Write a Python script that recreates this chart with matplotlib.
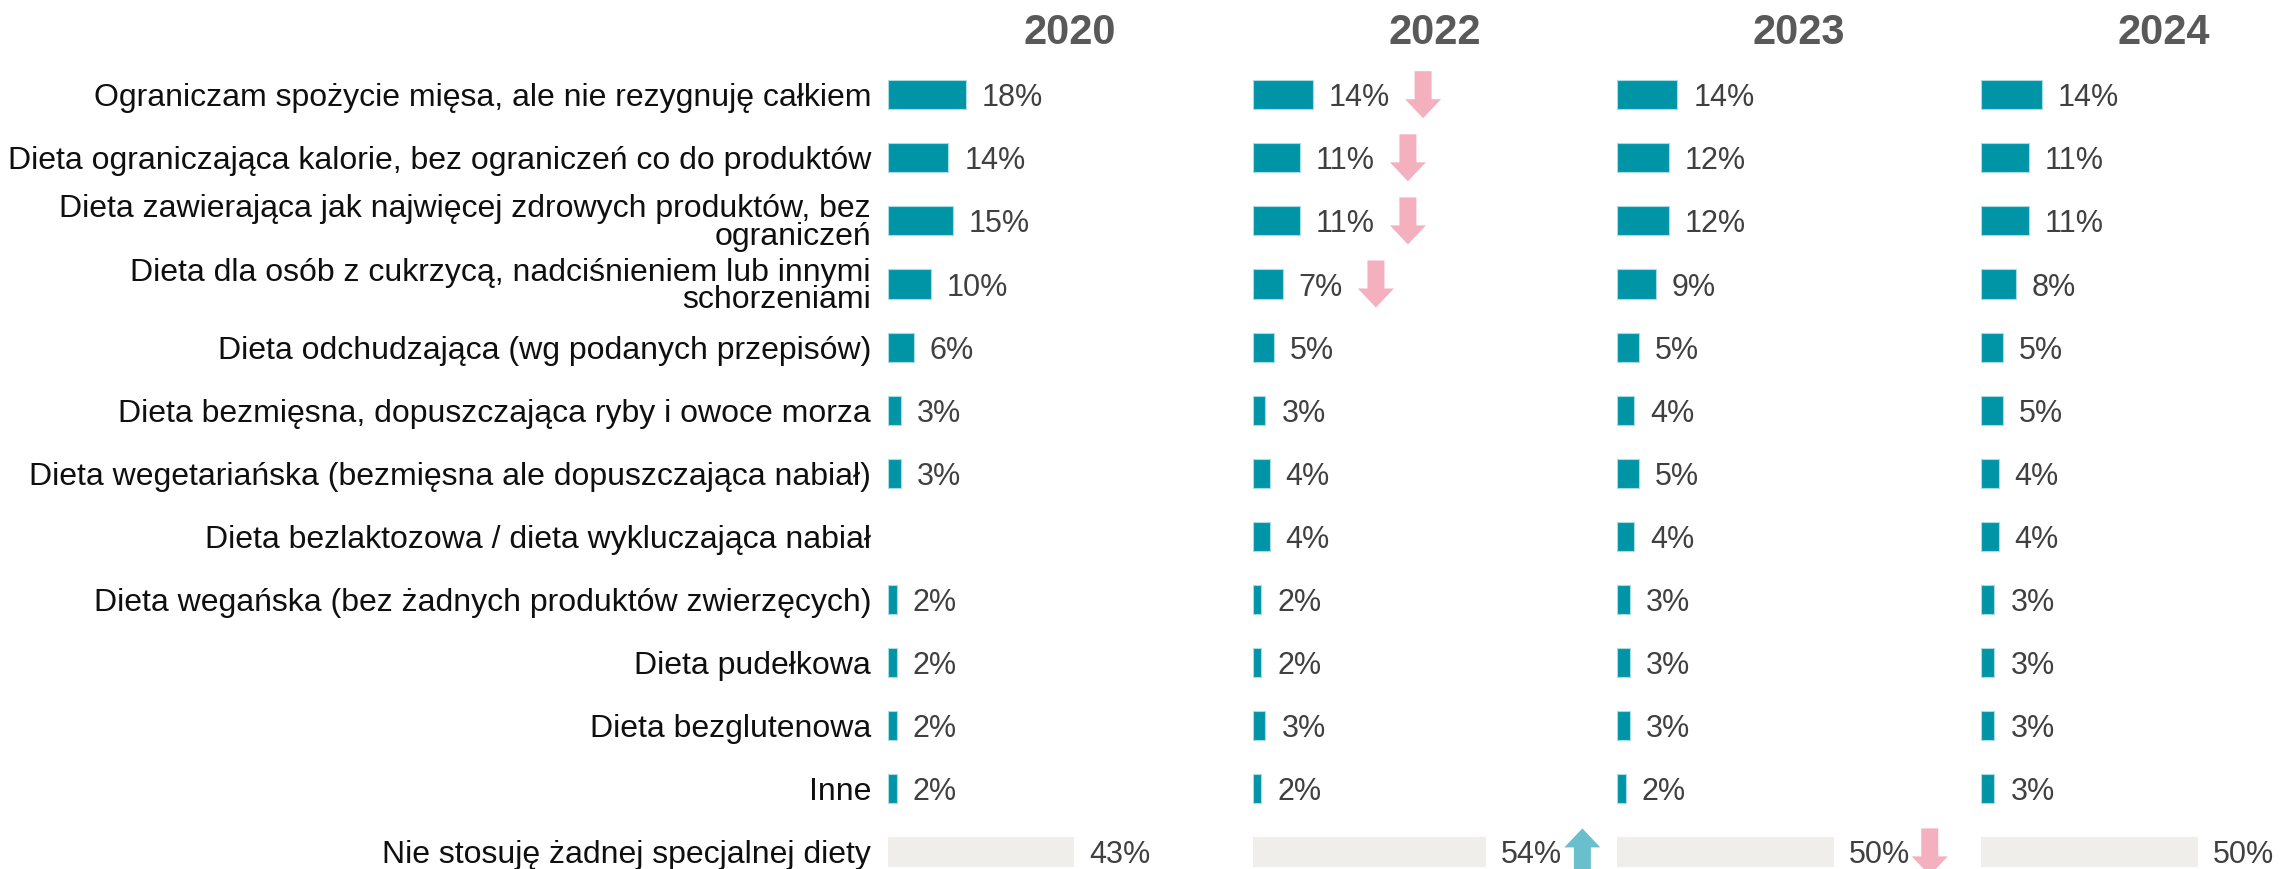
import matplotlib
matplotlib.use("Agg")
import matplotlib.pyplot as plt
import numpy as np
from matplotlib.patches import FancyArrowPatch

plt.rcParams["font.family"] = ["Liberation Sans", "DejaVu Sans"]

categories = [
    "Ograniczam spożycie mięsa, ale nie rezygnuję całkiem",
    "Dieta ograniczająca kalorie, bez ograniczeń co do produktów",
    "Dieta zawierająca jak najwięcej zdrowych produktów, bez\nograniczeń",
    "Dieta dla osób z cukrzycą, nadciśnieniem lub innymi\nschorzeniami",
    "Dieta odchudzająca (wg podanych przepisów)",
    "Dieta bezmięsna, dopuszczająca ryby i owoce morza",
    "Dieta wegetariańska (bezmięsna ale dopuszczająca nabiał)",
    "Dieta bezlaktozowa / dieta wykluczająca nabiał",
    "Dieta wegańska (bez żadnych produktów zwierzęcych)",
    "Dieta pudełkowa",
    "Dieta bezglutenowa",
    "Inne",
    "Nie stosuję żadnej specjalnej diety",
]

years = ["2020", "2022", "2023", "2024"]

share_2020 = [18, 14, 15, 10, 6, 3, 3, None, 2, 2, 2, 2, 43]
share_2022 = [14, 11, 11, 7, 5, 3, 4, 4, 2, 2, 3, 2, 54]
share_2023 = [14, 12, 12, 9, 5, 4, 5, 4, 3, 3, 3, 2, 50]
share_2024 = [14, 11, 11, 8, 5, 5, 4, 4, 3, 3, 3, 3, 50]

# change markers vs. previous wave: "up", "down" or None
trend_2020 = [None] * 13
trend_2022 = ["down", "down", "down", "down", None, None, None, None,
              None, None, None, None, "up"]
trend_2023 = [None] * 12 + ["down"]
trend_2024 = [None] * 13

shares = [share_2020, share_2022, share_2023, share_2024]
trends = [trend_2020, trend_2022, trend_2023, trend_2024]

TEAL = "#0094A7"
TEAL_EDGE = "#A8DCE3"
GREY_BAR = "#F0EEEA"
PINK = "#F4B0BF"
BLUE = "#69BFCC"
VALUE_C = "#404040"
LABEL_C = "#0F0F0F"
YEAR_C = "#595959"

W, H, DPI = 2284, 869, 100
fig = plt.figure(figsize=(W / DPI, H / DPI), dpi=DPI, facecolor="white")

n = len(categories)
px_per_pct = 4.31
panel_left, panel_step, panel_w = 888, 364.5, 364
row0, row_step = 94.7, 63.1
top_px = row0 - row_step / 2
bot_px = row0 + (n - 0.5) * row_step

y = np.arange(n)
pending_arrows = []

for k, (year, vals, trend) in enumerate(zip(years, shares, trends)):
    left = panel_left + k * panel_step
    ax = fig.add_axes([left / W, 1 - bot_px / H, panel_w / W, (bot_px - top_px) / H])
    ax.set_xlim(0, panel_w / px_per_pct)
    ax.set_ylim(n - 0.5, -0.5)
    ax.axis("off")

    v = np.array([np.nan if x is None else x for x in vals], dtype=float)
    colors = [TEAL] * (n - 1) + [GREY_BAR]
    edges = [TEAL_EDGE] * (n - 1) + [GREY_BAR]
    ax.barh(y, v, height=0.46, color=colors, edgecolor=edges, linewidth=0.8)

    for i, val in enumerate(vals):
        if val is None:
            continue
        lab = ax.annotate(f"{val}%", xy=(val, i), xytext=(16, 0),
                          textcoords="offset pixels", ha="left",
                          va="center_baseline", fontsize=22, color=VALUE_C,
                          annotation_clip=False)
        if trend[i] is not None:
            gap = 20 if i == n - 1 else 33
            pending_arrows.append((ax, lab, i, trend[i], gap))

    ax.annotate(year, xy=(0.5, 1), xycoords="axes fraction", xytext=(0, 35),
                textcoords="offset pixels", ha="center", va="center_baseline",
                fontsize=30, fontweight="bold", color=YEAR_C,
                annotation_clip=False)

    if k == 0:
        for i, cat in enumerate(categories):
            ax.annotate(cat, xy=(0, i), xytext=(-17, 0), textcoords="offset pixels",
                        ha="right", va="center_baseline", fontsize=23,
                        color=LABEL_C, linespacing=0.88, annotation_clip=False)

# trend arrows sit just right of their value labels
fig.canvas.draw()
renderer = fig.canvas.get_renderer()
half = 23.5 / row_step
for ax, lab, i, direction, gap in pending_arrows:
    bb = lab.get_window_extent(renderer)
    xd = ax.transData.inverted().transform((bb.x1 + gap, 0))[0]
    if direction == "down":
        start, end, col = (xd, i - half), (xd, i + half), PINK
    else:
        start, end, col = (xd, i + half), (xd, i - half), BLUE
    arrow = FancyArrowPatch(start, end, transform=ax.transData,
                            arrowstyle="simple,head_length=19,head_width=36,tail_width=17",
                            mutation_scale=0.72, shrinkA=0, shrinkB=0,
                            facecolor=col, edgecolor="none", linewidth=0,
                            clip_on=False)
    ax.add_patch(arrow)

fig.savefig("out.png", dpi=DPI, facecolor="white")
